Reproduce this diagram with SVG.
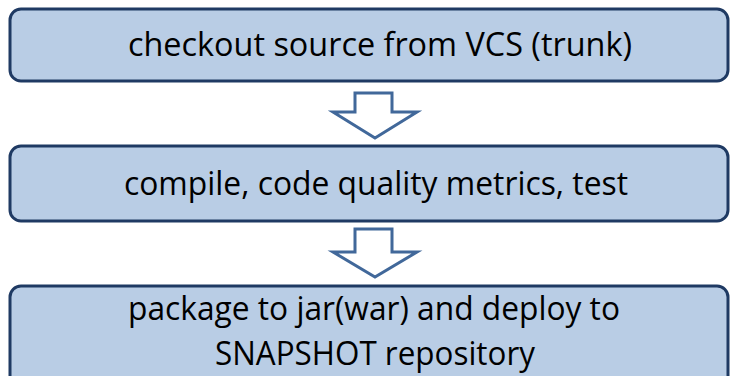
<svg xmlns="http://www.w3.org/2000/svg" width="731" height="376" viewBox="0 0 731 376">
<style>
.box{fill:#B9CDE5;stroke:#1F3A63;stroke-width:3}
.lbl{font-family:"Open Sans","Liberation Sans",Arial,sans-serif;font-size:33px;fill:#000}
.arr{fill:#fff;stroke:#41689A;stroke-width:3;stroke-linejoin:miter}
</style>
<rect width="731" height="376" fill="#fff"/>
<g id="node1">
<rect class="box" x="10" y="9" width="718" height="72" rx="11"/>
<text class="lbl" x="128" y="56" textLength="504" lengthAdjust="spacingAndGlyphs">checkout source from VCS (trunk)</text>
</g>
<g id="node2">
<rect class="box" x="10" y="146" width="718" height="75" rx="11"/>
<text class="lbl" x="124" y="195" textLength="504" lengthAdjust="spacingAndGlyphs">compile, code quality metrics, test</text>
</g>
<g id="node3">
<rect class="box" x="10" y="286" width="718" height="110" rx="11"/>
<text class="lbl" x="128" y="320" textLength="492" lengthAdjust="spacingAndGlyphs">package to jar(war) and deploy to</text>
<text class="lbl" x="215" y="365" textLength="320" lengthAdjust="spacingAndGlyphs">SNAPSHOT repository</text>
</g>
<g id="connectors">
<polygon class="arr" points="355,93 392,93 392,112 417,112 375,138 333,112 355,112"/>
<polygon class="arr" points="355,229 392,229 392,252 417,252 375,277 333,252 355,252"/>
</g>
</svg>
